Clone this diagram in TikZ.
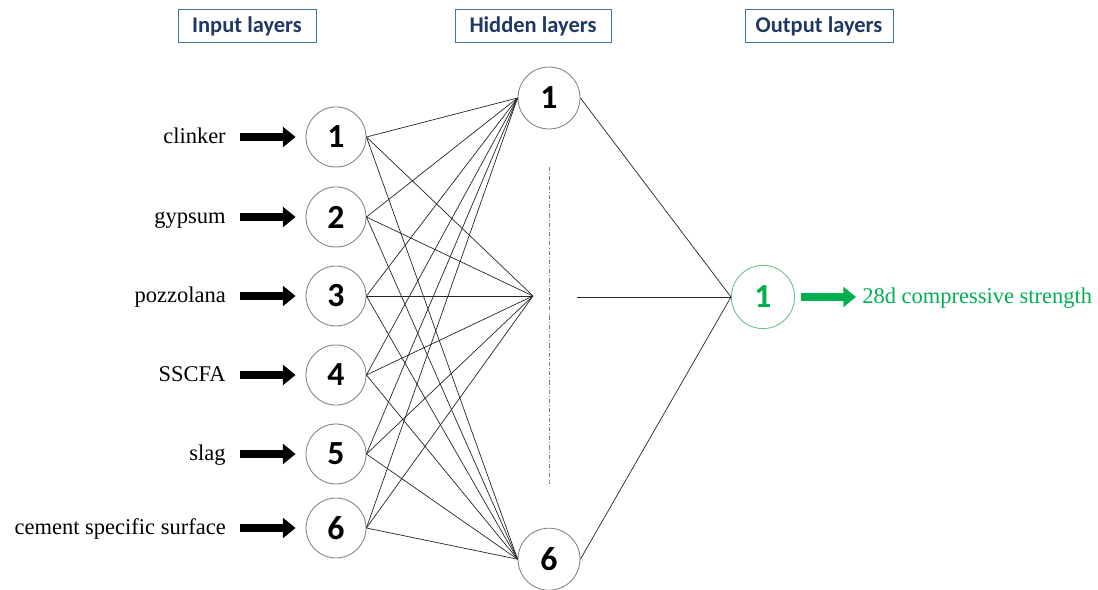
\documentclass[tikz,border=0pt]{standalone}
\usepackage{fontspec}
\setmainfont{Liberation Serif}
\newfontfamily\calfont{Carlito}
\usetikzlibrary{arrows.meta}
\definecolor{hdnavy}{RGB}{31,56,100}
\definecolor{hdframe}{RGB}{65,113,156}
\definecolor{ringgray}{RGB}{128,128,128}
\definecolor{outgreen}{RGB}{0,176,80}
\definecolor{ringgreen}{RGB}{95,195,135}
\tikzstyle{neuron}=[circle,draw=ringgray,line width=0.6pt,minimum size=1.5cm,inner sep=0pt,font=\calfont\bfseries\fontsize{24}{24}\selectfont]
\tikzstyle{outneuron}=[neuron,draw=ringgreen,text=outgreen,minimum size=1.58cm]
\tikzstyle{layerbox}=[draw=hdframe,line width=0.6pt,text=hdnavy,minimum height=0.82cm,inner sep=0pt,font=\calfont\bfseries\fontsize{16}{16}\selectfont]
\tikzstyle{feature}=[anchor=east,inner sep=0pt,text height=10.6pt,text depth=2pt,font=\fontsize{16}{16}\selectfont]
\tikzstyle{fatarrow}=[line width=5pt,-{Triangle[length=9pt,width=14pt]}]
\tikzstyle{link}=[line width=0.5pt,black!85]
\newcommand{\neuron}{\node[neuron]}
\newcommand{\feature}{\node[feature]}

\begin{document}
\begin{tikzpicture}
		\useasboundingbox (0,0) rectangle (27.45,14.75);
		% % % % % % % % % % % % % % % % % % % % % % % % % % % % %
		\node [layerbox,minimum width=3.45cm] (hin) at (6.175,14.1) {Input layers};
		\node [layerbox,minimum width=3.9cm] (hhid) at (13.325,14.1) {Hidden layers};
		\node [layerbox,minimum width=3.7cm] (hout) at (20.475,14.1) {Output layers};
		%*********************
		\neuron (in1) at (8.4,11.325) {1};
		\neuron (in2) at (8.4,9.325) {2};
		\neuron (in3) at (8.4,7.35) {3};
		\neuron (in4) at (8.4,5.375) {4};
		\neuron (in5) at (8.4,3.4) {5};
		\neuron (in6) at (8.4,1.55) {6};
		%*********************
		\feature (f1) at (5.65,11.325) {clinker};
		\feature (f2) at (5.65,9.325) {gypsum};
		\feature (f3) at (5.65,7.35) {pozzolana};
		\feature (f4) at (5.65,5.375) {SSCFA};
		\feature (f5) at (5.65,3.4) {slag};
		\feature (f6) at (5.65,1.55) {cement specific surface};
		%*********************
		\neuron [minimum size=1.55cm] (hid1) at (13.725,12.3) {1};
		\neuron [minimum size=1.55cm] (hid6) at (13.725,0.77) {6};
		\coordinate (mid) at (13.325,7.35);
		\coordinate (midr) at (14.425,7.325);
		\coordinate (dtop) at (13.725,10.575);
		\coordinate (dbot) at (13.725,2.65);
		%*********************
		\node [outneuron] (out1) at (19.075,7.325) {1};
		\node [anchor=west,inner sep=0pt,text height=10.6pt,text depth=2pt,text=outgreen,font=\fontsize{16}{16}\selectfont] (target) at (21.55,7.325) {28d compressive strength};
		%*********************
		\draw [ringgray,line width=0.5pt,dash pattern=on 3pt off 1.5pt on 0.6pt off 1.5pt] (dtop) -- (dbot);
		
		\path [link]
		% % % % % % % % % % % % % % % % %
		%**************
		(in1.east) edge [] (hid1.west)
		(in1.east) edge [] (mid)
		(in1.east) edge [] (hid6.west)
		%**************
		(in2.east) edge [] (hid1.west)
		(in2.east) edge [] (mid)
		(in2.east) edge [] (hid6.west)
		%**************
		(in3.east) edge [] (hid1.west)
		(in3.east) edge [] (mid)
		(in3.east) edge [] (hid6.west)
		%**************
		(in4.east) edge [] (hid1.west)
		(in4.east) edge [] (mid)
		(in4.east) edge [] (hid6.west)
		%**************
		(in5.east) edge [] (hid1.west)
		(in5.east) edge [] (mid)
		(in5.east) edge [] (hid6.west)
		%**************
		(in6.east) edge [] (hid1.west)
		(in6.east) edge [] (mid)
		(in6.east) edge [] (hid6.west)
		%********************
		(hid1.east) edge [] (out1.west)
		(midr) edge [] (out1.west)
		(hid6.east) edge [] (out1.west)
		;
		%********************
		\path [fatarrow,shorten <=0.35cm,shorten >=0.25cm]
		(f1) edge [] (in1)
		(f2) edge [] (in2)
		(f3) edge [] (in3)
		(f4) edge [] (in4)
		(f5) edge [] (in5)
		(f6) edge [] (in6)
		;
		\draw [fatarrow,outgreen,shorten <=0.16cm,shorten >=0.15cm] (out1) -- (target);
\end{tikzpicture}
\end{document}
